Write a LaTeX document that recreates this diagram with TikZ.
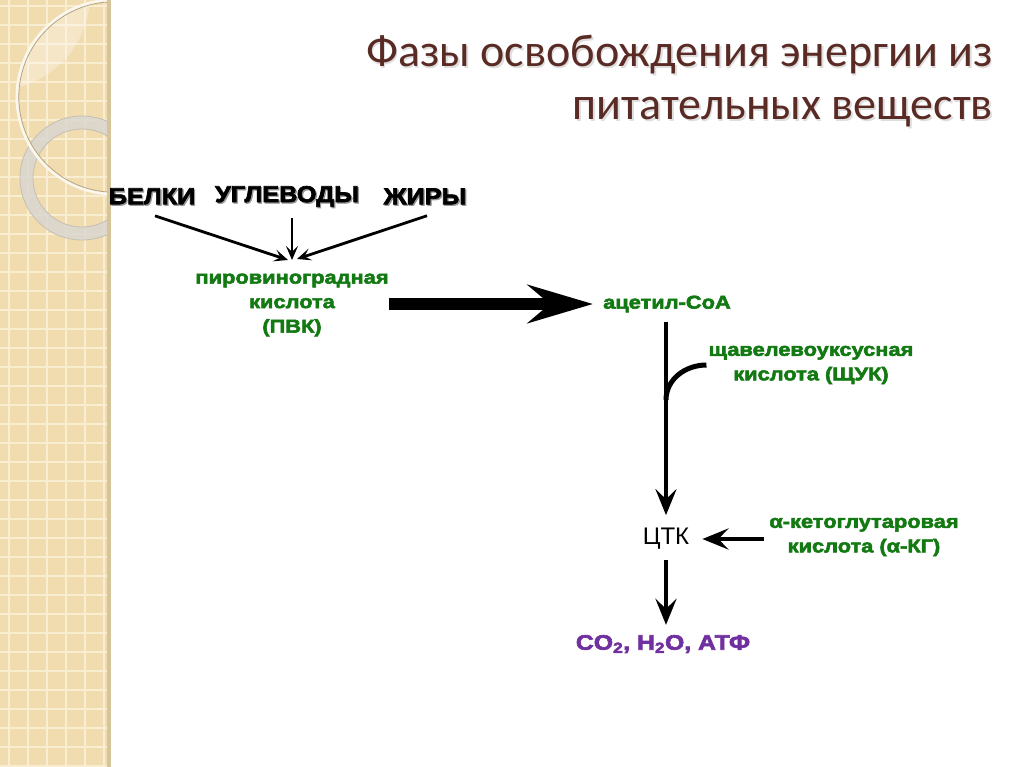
\documentclass[tikz,border=0pt]{standalone}
\usepackage{fontspec}
\setmainfont{Liberation Sans}
\newfontfamily\titlefont{Carlito}
\newfontfamily\headfont[FakeStretch=1.10,FakeBold=3]{Liberation Sans}
\newfontfamily\grnfont[FakeStretch=1.18,FakeBold=3]{Liberation Sans}
\usetikzlibrary{arrows.meta}
\definecolor{stripbg}{HTML}{F1DCAF}
\definecolor{gridln}{HTML}{F9EDD2}
\definecolor{stripedge}{HTML}{D6C59A}
\definecolor{titlecol}{HTML}{5A2A24}
\definecolor{dgreen}{HTML}{137A13}
\definecolor{dpurple}{HTML}{7030A0}
\definecolor{ringgray}{HTML}{DAD7D1}
\definecolor{ringedge}{HTML}{C4BFB5}
\definecolor{thinring}{HTML}{FBF7EC}
\definecolor{thinedge}{HTML}{B5A584}
\newcommand\shadowed[1]{\makebox[0pt][l]{\kern1.3pt\raisebox{-1.3pt}{\textcolor{black!40}{#1}}}#1}
\newcommand\softshadow[1]{\makebox[0pt][l]{\kern1.5pt\raisebox{-1.5pt}{\textcolor{black!13}{#1}}}#1}
\begin{document}
\begin{tikzpicture}[x=1pt,y=-1pt,
  titletext/.style={inner sep=0pt,text=titlecol,font=\titlefont\fontsize{46}{52}\selectfont},
  heading/.style={inner sep=0pt,font=\headfont\bfseries\fontsize{23}{27}\selectfont},
  grn/.style={inner sep=0pt,align=center,text=dgreen,font=\grnfont\bfseries\fontsize{18.5}{24.5}\selectfont},
  thinarr/.style={line width=2.8pt,-{Stealth[length=14pt,width=12pt,inset=6pt]}},
  midarr/.style={line width=4.5pt,-{Stealth[length=26pt,width=21pt,inset=10pt]}},
  bigarr/.style={line width=12pt,-{Stealth[length=65pt,width=38pt,inset=22pt]}},
  gridline/.style={line width=1.5pt,draw=gridln}
]
\useasboundingbox (0,0) rectangle (1024,767);
\fill[white] (0,0) rectangle (1024,767);
% decorative strip
\begin{scope}
  \clip (0,0) rectangle (107,767);
  \fill[stripbg] (0,0) rectangle (107,767);
  \foreach \x in {9,28,...,107} \draw[gridline] (\x,0) -- (\x,767);
  \foreach \y in {6,25,...,767} \draw[gridline] (0,\y) -- (107,\y);
  \fill[ringgray,opacity=0.85,even odd rule] (82,178) circle[radius=62pt] (82,178) circle[radius=49pt];
  \draw[ringedge,line width=0.8pt] (82,178) circle[radius=62pt];
  \draw[ringedge,line width=0.8pt] (82,178) circle[radius=49pt];
  \begin{scope}
    \clip (114,97) circle[radius=96pt];
    \fill[white,opacity=0.3] (-5,-5) circle[radius=95pt];
  \end{scope}
  \draw[thinring,line width=3pt] (114,97) circle[radius=97pt];
  \draw[thinedge,line width=0.8pt] (114,97) circle[radius=95.2pt];
\end{scope}
\fill[stripedge] (107,0) rectangle (111,767);
% title
\node[titletext,anchor=base east] (t1) at (993,67) {\softshadow{Фазы освобождения энергии из}};
\node[titletext,anchor=base east] (t2) at (993,120) {\softshadow{питательных веществ}};
% sources
\node[heading] (belki) at (152,197) {\shadowed{БЕЛКИ}};
\node[heading] (ugl) at (287,197) {\shadowed{УГЛЕВОДЫ}};
\node[heading] (jiry) at (425,197) {\shadowed{ЖИРЫ}};
\coordinate (join) at (292,260);
\node[grn] (pvk) at (292,305) {пировиноградная\\кислота\\(ПВК)};
\draw[thinarr] ([shift={(3,10)}]belki.south) -- ([xshift=-4pt]join);
\draw[thinarr] ([shift={(5,10)}]ugl.south) -- (join);
\draw[thinarr] ([shift={(2,10)}]jiry.south) -- ([shift={(5,-1)}]join);
% main chain
\node[grn,anchor=west] (acetyl) at (603,304) {ацетил-СоА};
\draw[bigarr,shorten >=10pt] (pvk.east |- acetyl.west) -- (acetyl.west);
\node[inner sep=0pt,font=\fontsize{24}{28}\selectfont] (tck) at (666,539) {ЦТК};
\node[grn] (shuk) at (811,365) {щавелевоуксусная\\кислота (ЩУК)};
\node[grn] (akg) at (864,537) {α-кетоглутаровая\\кислота (α-КГ)};
\node[inner sep=0pt,text=dpurple,font=\grnfont\bfseries\fontsize{21}{25}\selectfont] (prod) at (663,644) {CO\textsubscript{2}, H\textsubscript{2}O, АТФ};
\coordinate (merge) at (666,400);
\draw[midarr,shorten <=9pt,shorten >=13pt] (acetyl.south -| tck.north) -- (tck.north);
\draw[line width=5pt] ([xshift=-2pt]shuk.west) to[out=180,in=90] (merge);
\draw[midarr,shorten >=13pt] ([xshift=-5pt]akg.west |- tck.east) -- (tck.east);
\draw[midarr,shorten <=10pt,shorten >=10pt] (tck.south) -- (prod.north -| tck.south);
\end{tikzpicture}
\end{document}
